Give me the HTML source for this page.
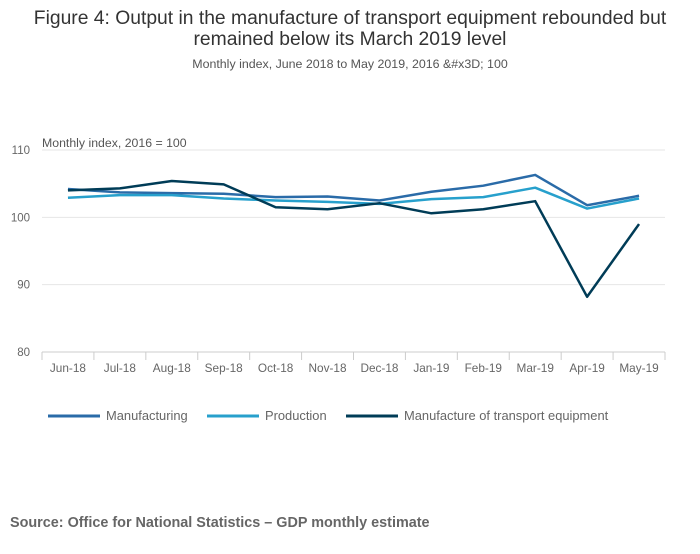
<!DOCTYPE html>
<html><head><meta charset="utf-8"><style>
body{margin:0;background:#fff;font-family:"Liberation Sans",sans-serif;}
</style></head><body>
<svg width="700" height="549" xmlns="http://www.w3.org/2000/svg" font-family="Liberation Sans, sans-serif">
<text x="350" y="24" text-anchor="middle" font-size="19.3" fill="#333">Figure 4: Output in the manufacture of transport equipment rebounded but</text>
<text x="350" y="45" text-anchor="middle" font-size="19.3" fill="#333">remained below its March 2019 level</text>
<text x="350" y="68" text-anchor="middle" font-size="12.4" fill="#555">Monthly index, June 2018 to May 2019, 2016 &amp;#x3D; 100</text>
<text x="42" y="147" font-size="12.3" fill="#555">Monthly index, 2016 = 100</text>
<g id="grid"></g><g id="xaxis"></g><g id="series"></g>
<g id="legend"></g>
<text x="10" y="527" font-size="14.4" font-weight="bold" fill="#666">Source: Office for National Statistics – GDP monthly estimate</text>
</svg>
<script>
const categories=["Jun-18","Jul-18","Aug-18","Sep-18","Oct-18","Nov-18","Dec-18","Jan-19","Feb-19","Mar-19","Apr-19","May-19"];
const manufacturing=[104.2,103.7,103.6,103.5,103.0,103.1,102.5,103.8,104.7,106.3,101.8,103.2];
const production=[102.9,103.3,103.3,102.8,102.5,102.3,102.0,102.7,103.0,104.4,101.3,102.8];
const transport=[104.0,104.3,105.4,104.9,101.5,101.2,102.1,100.6,101.2,102.4,88.2,99.0];
const yTicks=[80,90,100,110];
const seriesNames=["Manufacturing","Production","Manufacture of transport equipment"];
const NS="http://www.w3.org/2000/svg";
const L=42,R=665,T=150,B=352,ymin=80,ymax=110;
const step=(R-L)/categories.length;
const x=i=>L+step*(i+0.5);
const y=v=>B-(v-ymin)/(ymax-ymin)*(B-T);
function mk(tag,attrs,parent){const e=document.createElementNS(NS,tag);for(const k in attrs)e.setAttribute(k,attrs[k]);parent.appendChild(e);return e;}
const grid=document.getElementById('grid');
yTicks.forEach(t=>{
 const ln=mk('line',{x1:L,x2:R,y1:y(t),y2:y(t),stroke:t===ymin?'#ccc':'#e6e6e6'},grid);
 
 
 const tx=mk('text',{x:30,y:y(t)+4,'text-anchor':'end','font-size':11.5,fill:'#666'},grid);
 tx.textContent=t;
 
 
});
const xa=document.getElementById('xaxis');
for(let i=0;i<=categories.length;i++){
 const tk=mk('line',{x1:L+step*i,x2:L+step*i,y1:B,y2:B+8,stroke:'#ccc'},xa);
 
 
}
categories.forEach((c,i)=>{
 const tx=mk('text',{x:x(i),y:B+20,'text-anchor':'middle','font-size':11.8,fill:'#666'},xa);
 tx.textContent=c;
 
 
});
const colors=["#2a6ba8","#27a0cc","#003c57"];
const data=[manufacturing,production,transport];
const sg=document.getElementById('series');
data.forEach((d,k)=>{
 const p=mk('polyline',{points:d.map((v,i)=>x(i)+','+y(v)).join(' '),fill:'none',stroke:colors[k],'stroke-width':2.5,'stroke-linejoin':'round'},sg);
 
 
});
const lg=document.getElementById('legend');
const lx=[48,207,346];
seriesNames.forEach((n,k)=>{
 const g=mk('g',{},lg);
 
 
 mk('line',{x1:lx[k],x2:lx[k]+52,y1:416,y2:416,stroke:colors[k],'stroke-width':3},g);
 const t=mk('text',{x:lx[k]+58,y:420,'font-size':12.9,fill:'#666'},g);
 t.textContent=n;
});
</script>
</body></html>
